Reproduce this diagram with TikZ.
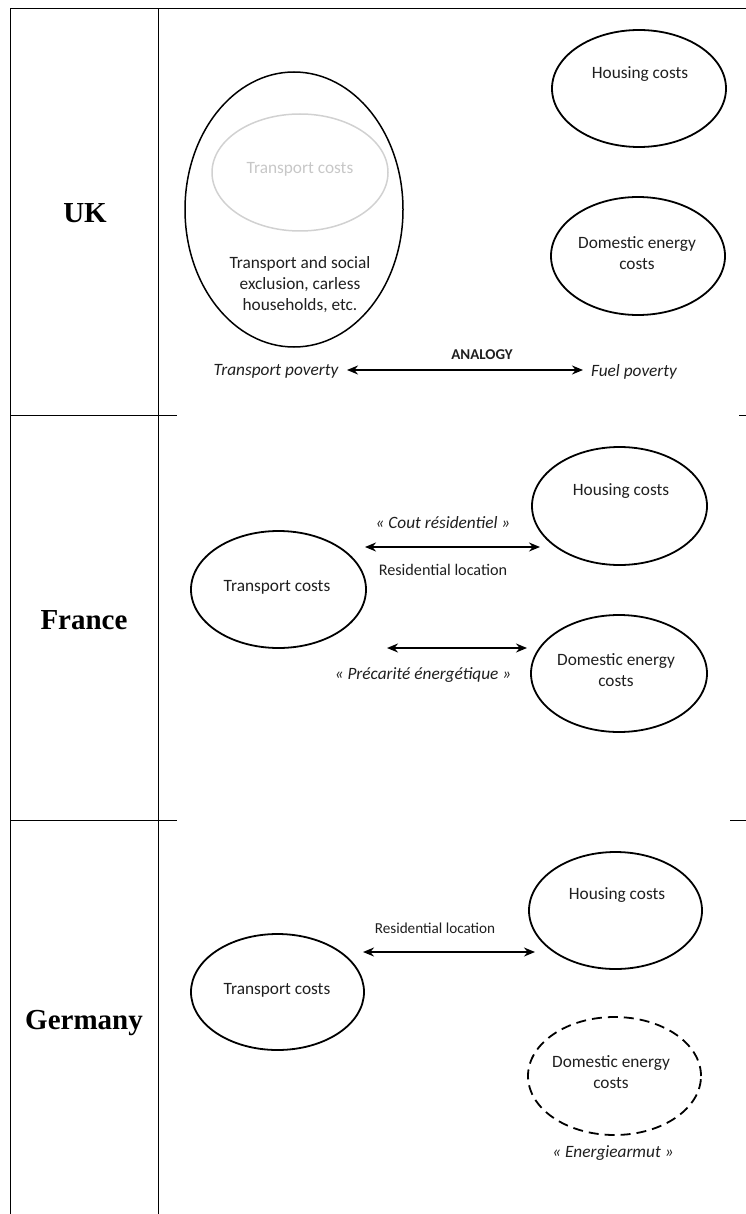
\documentclass[tikz,border=0pt]{standalone}
\usepackage{fontspec}
\setmainfont{Carlito}
\newfontfamily\countryfont{Liberation Serif}
\usetikzlibrary{arrows.meta,shapes.geometric}
\tikzset{
  tbl/.style={line width=1pt, line cap=rect},
  oval/.style={draw, ellipse, line width=1.8pt, inner sep=0pt},
  txt/.style={font=\fontsize{17.3}{21}\selectfont, align=center, inner sep=0pt, text=black!88, yshift=-1.5pt},
  itl/.style={font=\fontsize{17.3}{21}\selectfont\itshape, inner sep=0pt, text=black!88, yshift=-1.5pt},
  small/.style={font=\fontsize{16.2}{19}\selectfont, inner sep=0pt, text=black!88, yshift=-1.5pt},
  country/.style={font=\fontsize{29}{32}\selectfont\countryfont\bfseries, inner sep=0pt},
  dbl/.style={{Stealth[length=11pt,width=9pt]}-{Stealth[length=11pt,width=9pt]}, line width=1.7pt},
}
\begin{document}
\begin{tikzpicture}[x=1pt,y=-1pt]
\useasboundingbox (0,0) rectangle (745,1214);
% table
\draw[tbl] (10,9) -- (745,9);
\draw[tbl] (10,9) -- (10,1214);
\draw[tbl] (158,9) -- (158,1214);
\draw[tbl] (10,415) -- (176,415);
\draw[tbl] (739,415) -- (745,415);
\draw[tbl] (10,820) -- (176,820);
\draw[tbl] (730,820) -- (745,820);
% country labels
\node[country] (uk) at (85,213) {UK};
\node[country] (fr) at (84,620) {France};
\node[country] (de) at (84,1023) {Germany};

% ---------- UK ----------
\node[oval, line width=1.5pt, minimum width=218pt, minimum height=275pt] (ukbig) at (294,209.5) {};
\node[oval, draw=black!18, line width=1.5pt, minimum width=176pt, minimum height=117pt] (uktc) at (300,172.5) {};
\node[txt, text=black!22] (uktct) at (300,168) {Transport costs};
\node[txt] (ukexcl) at (300,283) {Transport and social\\exclusion, carless\\households, etc.};
\node[oval, minimum width=174pt, minimum height=117pt] (ukhc) at (639,88.5) {};
\node[txt] (ukhct) at (640,73) {Housing costs};
\node[oval, minimum width=174pt, minimum height=118pt] (ukde) at (638,256) {};
\node[txt] (ukdet) at (637,252) {Domestic energy\\costs};
\node[itl] (ukTP) at (276,370) {Transport poverty};
\node[itl] (ukFP) at (634,370) {Fuel poverty};
\node[font=\fontsize{15}{18}\selectfont\bfseries, inner sep=0pt, text=black!88] (analogy) at (482,355) {ANALOGY};
\coordinate (ukA) at (347,370);
\coordinate (ukB) at (583,370);
\draw[dbl] (ukA) -- (ukB);

% ---------- France ----------
\node[oval, minimum width=175pt, minimum height=117pt] (frtc) at (278.5,589.5) {};
\node[txt] (frtct) at (277,586) {Transport costs};
\node[oval, minimum width=175pt, minimum height=118pt] (frhc) at (619.5,506) {};
\node[txt] (frhct) at (621,490) {Housing costs};
\node[oval, minimum width=176pt, minimum height=117pt] (frde) at (619,673.5) {};
\node[txt] (frdet) at (616,669) {Domestic energy\\costs};
\coordinate (frA1) at (365,547);
\coordinate (frB1) at (540,547);
\draw[dbl] (frA1) -- (frB1);
\node[itl] (frcout) at (443,521) {« Cout résidentiel »};
\node[small] (frres) at (443,568) {Residential location};
\coordinate (frA2) at (387,648);
\coordinate (frB2) at (527,648);
\draw[dbl] (frA2) -- (frB2);
\node[itl] (frprec) at (423,674) {« Précarité énergétique »};

% ---------- Germany ----------
\node[oval, minimum width=173pt, minimum height=116pt] (detc) at (277.5,992) {};
\node[txt] (detct) at (277,989) {Transport costs};
\node[oval, minimum width=173pt, minimum height=117pt] (dehc) at (615.5,910.5) {};
\node[txt] (dehct) at (617,894) {Housing costs};
\node[oval, dash pattern=on 10pt off 6pt, minimum width=173pt, minimum height=118pt] (dede) at (614.5,1076) {};
\node[txt] (dedet) at (611,1071) {Domestic energy\\costs};
\node[small, font=\fontsize{15.2}{18}\selectfont] (deres) at (435,927) {Residential location};
\coordinate (deA) at (363,952);
\coordinate (deB) at (535,952);
\draw[dbl] (deA) -- (deB);
\node[itl] (deenergie) at (613,1152) {« Energiearmut »};
\end{tikzpicture}
\end{document}
